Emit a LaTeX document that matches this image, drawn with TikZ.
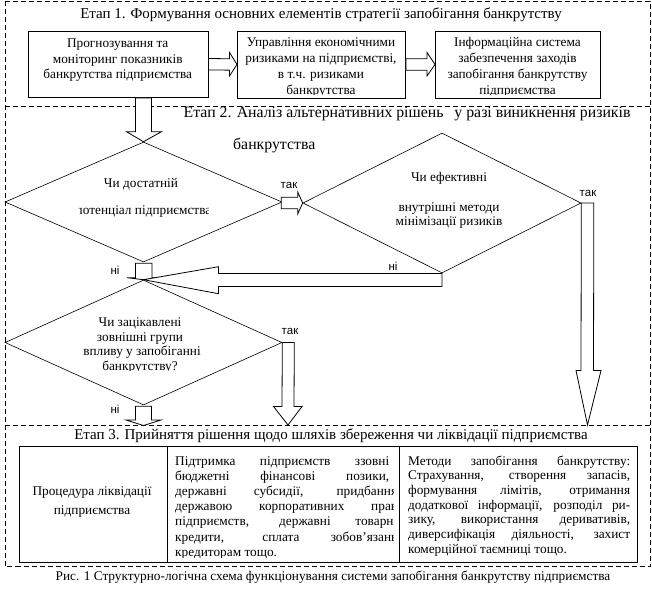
\documentclass[tikz,border=0pt]{standalone}
\usepackage{fontspec}
\setmainfont{Liberation Serif}
\setsansfont{Liberation Sans}
\newfontfamily\tnr{Liberation Serif}
\newfontfamily\arl{Liberation Sans}
\usetikzlibrary{shapes.geometric,calc}
\begin{document}
\begin{tikzpicture}[x=1pt,y=-1pt,
  frame/.style={draw, dash pattern=on 5pt off 3pt, line width=0.6pt},
  box/.style={draw, line width=0.9pt, inner sep=0pt, anchor=north west},
  dia/.style={draw, diamond, inner sep=0pt, line width=0.6pt},
  barrow/.style={draw, fill=white, line width=0.8pt, line join=miter},
  lbl/.style={font=\arl\fontsize{11.5}{12}\selectfont, inner sep=0pt, anchor=base},
  txt/.style={font=\tnr\fontsize{13.3}{15}\selectfont, inner sep=0pt, anchor=base},
  ltxt/.style={font=\tnr\fontsize{13.3}{15}\selectfont, inner sep=0pt, anchor=base west},
  title/.style={font=\tnr\fontsize{15}{17}\selectfont, inner sep=0pt, anchor=base},
  titleb/.style={font=\tnr\fontsize{15.8}{17}\selectfont, inner sep=0pt, anchor=base west},
]
\useasboundingbox (0,0) rectangle (652,611);
\fill[white] (0,0) rectangle (652,611);

% dashed frame of the three stages
\draw[frame] (5,1) rectangle (650,566.5);
\draw[frame] (5,106) -- (650,106);
\draw[frame] (5,425) -- (650,425);

% titles
\node[title] (t1) at (321,18.7) {Етап 1. Формування основних елементів стратегії запобігання банкрутству};
\node[titleb] (t2a) at (183.5,117.8) {Етап 2. Аналіз альтернативних рішень\hspace{11pt}у разі виникнення ризиків};
\node[titleb] (t2b) at (233,149.5) {банкрутства};
\node[title] (t3) at (331,439.5) {Етап 3. Прийняття рішення щодо шляхів збереження чи ліквідації підприємства};
\node[txt] (cap) at (333,580.5) {Рис. 1 Структурно-логічна схема функціонування системи запобігання банкрутству підприємства};

% stage 1 boxes
\node[box, minimum width=179.5pt, minimum height=66.5pt] (b1) at (28,30.5) {};
\node[box, minimum width=168pt, minimum height=67pt] (b2) at (237,30.5) {};
\node[box, minimum width=165pt, minimum height=67pt] (b3) at (435,30.5) {};

\node[txt] (b1l1) at (117.75,47.5) {Прогнозування та};
\node[txt] (b1l2) at (117.75,63) {моніторинг показників};
\node[txt] (b1l3) at (117.75,78.5) {банкрутства підприємства};

\begin{scope}
\clip (237,31) rectangle (405,94.3);
\node[txt] (b2l1) at (321,46.5) {Управління економічними};
\node[txt] (b2l2) at (321,62.5) {ризиками на підприємстві,};
\node[txt] (b2l3) at (321,78.5) {в т.ч. ризиками};
\node[txt] (b2l4) at (321,94.5) {банкрутства};
\end{scope}
\begin{scope}
\clip (435,31) rectangle (600,94.3);
\node[txt] (b3l1) at (517.5,46.5) {Інформаційна система};
\node[txt] (b3l2) at (517.5,62.5) {забезпечення заходів};
\node[txt] (b3l3) at (517.5,78.5) {запобігання банкрутству};
\node[txt] (b3l4) at (517.5,94.5) {підприємства};
\end{scope}

% arrows between stage 1 boxes
\draw[barrow] ($(b1.east)+(0,-5.7)$) -- ($(b2.west)+(-7.5,-5.7)$) -- ($(b2.west)+(-7.5,-12)$) -- (b2.west)
  -- ($(b2.west)+(-7.5,11.5)$) -- ($(b2.west)+(-7.5,5.7)$) -- ($(b1.east)+(0,5.7)$) -- cycle;
\draw[barrow] ($(b2.east)+(0,-5.7)$) -- ($(b3.west)+(-8,-5.7)$) -- ($(b3.west)+(-8,-12)$) -- (b3.west)
  -- ($(b3.west)+(-8,11.5)$) -- ($(b3.west)+(-8,5.7)$) -- ($(b2.east)+(0,5.7)$) -- cycle;

% diamonds
\node[dia, minimum width=277pt, minimum height=120pt] (d1) at (143.5,202) {};
\node[dia, minimum width=278pt, minimum height=140pt] (d2) at (442,203) {};
\node[dia, minimum width=277pt, minimum height=125pt] (d3) at (143.5,342.5) {};

% diamond texts
\node[txt] (d1l1) at (141,187.5) {Чи достатній};
\begin{scope}
\clip (79,195) rectangle (208.5,225);
\node[txt] (d1l2) at (143.5,214.5) {потенціал підприємства};
\end{scope}
\node[txt] (d2l1) at (449,181.5) {Чи ефективні};
\node[txt] (d2l2) at (449,211.5) {внутрішні методи};
\node[txt] (d2l3) at (449,225.5) {мінімізації ризиків};
\node[txt] (d3l1) at (140,326.5) {Чи зацікавлені};
\node[txt] (d3l2) at (140,341) {зовнішні групи};
\node[txt] (d3l3) at (142,355.5) {впливу у запобіганні};
\begin{scope}
\clip (60,358) rectangle (230,370.6);
\node[txt] (d3l4) at (140,370) {банкрутству?};
\end{scope}

% free ends of the arrows on the stage 3 line
\coordinate (e2) at (587.5,425);
\coordinate (e3) at (288,425);
\coordinate (e4) at (143.5,425.5);

% block arrow: stage 1 -> diamond 1
\draw[barrow] ($(d1.north |- b1.south)+(-8,0)$) -- ($(d1.north)+(-8,-10)$) -- ($(d1.north)+(-17,-10)$) -- (d1.north)
  -- ($(d1.north)+(18,-10)$) -- ($(d1.north)+(8,-10)$) -- ($(d1.north |- b1.south)+(8,0)$) -- cycle;

% так: diamond 1 -> diamond 2
\draw[barrow] ($(d1.east |- d2.west)+(-1,-5.8)$) -- ($(d2.west)+(-5,-5.8)$) -- ($(d2.west)+(-5,-11)$) -- (d2.west)
  -- ($(d2.west)+(-5,11)$) -- ($(d2.west)+(-5,5.8)$) -- ($(d1.east |- d2.west)+(-1,5.8)$) -- cycle;

% ні: diamond 1 -> diamond 3
\draw[barrow] ($(d1.south)+(-8,1)$) -- ($(d3.north)+(-8,-2)$) -- ($(d3.north)+(-16.5,-2)$) -- (d3.north)
  -- ($(d3.north)+(18.5,-2)$) -- ($(d3.north)+(8.5,-2)$) -- ($(d1.south)+(8.5,1)$) -- cycle;

% ні: diamond 2 -> diamond 3
\draw[barrow] ($(d3.north -| d2.south)+(0,-6.3)$) -- ($(d3.north)+(75,-6.3)$) -- ($(d3.north)+(75,-13)$) -- (d3.north)
  -- ($(d3.north)+(75,14)$) -- ($(d3.north)+(75,6.7)$) -- ($(d3.north -| d2.south)+(0,6.7)$) -- cycle;

% так: diamond 2 -> stage 3
\draw[barrow] (d2.east) -- ($(d2.east)+(12.5,0)$) -- ($(e2)+(6,-54.5)$) -- ($(e2)+(13.5,-54.5)$) -- (e2)
  -- ($(e2)+(-11.5,-54.5)$) -- ($(e2)+(-6.5,-54.5)$) -- cycle;

% так: diamond 3 -> stage 3
\draw[barrow] (d3.east) -- ($(d3.east)+(12,0)$) -- ($(e3)+(6,-18.5)$) -- ($(e3)+(14,-18.5)$) -- (e3)
  -- ($(e3)+(-14.5,-18.5)$) -- ($(e3)+(-6,-18.5)$) -- cycle;

% ні: diamond 3 -> stage 3
\draw[barrow] ($(d3.south)+(-8,1)$) -- ($(e4)+(-8,-5.5)$) -- ($(e4)+(-17.5,-5.5)$) -- (e4)
  -- ($(e4)+(17.5,-5.5)$) -- ($(e4)+(8,-5.5)$) -- ($(d3.south)+(8,1)$) -- cycle;

% labels
\node[lbl] (l1) at (289,188) {так};
\node[lbl] (l2) at (588,196) {так};
\node[lbl] (l3) at (290,334) {так};
\node[lbl] (n1) at (115,274) {ні};
\node[lbl] (n2) at (393,270) {ні};
\node[lbl] (n3) at (115,413) {ні};

% stage 3 table
\node[box, minimum width=148.5pt, minimum height=116pt] (c1) at (18.5,446) {};
\node[box, minimum width=231.5pt, minimum height=116pt] (c2) at (167,446) {};
\node[box, minimum width=238.5pt, minimum height=116pt] (c3) at (398.5,446) {};

\node[txt] (c1l1) at (92,495) {Процедура ліквідації};
\node[txt] (c1l2) at (92,514.5) {підприємства};

\begin{scope}
\clip (168,447) rectangle (393,557);
\node[ltxt] (c2l1) at (175,465) {\makebox[214pt][s]{Підтримка підприємств ззовні}};
\node[ltxt] (c2l2) at (175,480.2) {\makebox[214pt][s]{бюджетні фінансові позики,}};
\node[ltxt] (c2l3) at (175,495.4) {\makebox[222pt][s]{державні субсидії, придбання}};
\node[ltxt] (c2l4) at (175,510.6) {\makebox[222pt][s]{державою корпоративних прав}};
\node[ltxt] (c2l5) at (175,525.8) {\makebox[222pt][s]{підприємств, державні товарні}};
\node[ltxt] (c2l6) at (175,541) {\makebox[222pt][s]{кредити, сплата зобов’язань}};
\node[ltxt] (c2l7) at (175,556.2) {кредиторам тощо.};
\end{scope}

\node[ltxt] (c3l1) at (408,465) {\makebox[222pt][s]{Методи запобігання банкрутству:}};
\node[ltxt] (c3l2) at (408,479.7) {\makebox[222pt][s]{Страхування, створення запасів,}};
\node[ltxt] (c3l3) at (408,494.4) {\makebox[222pt][s]{формування лімітів, отримання}};
\node[ltxt] (c3l4) at (408,509.1) {\makebox[222pt][s]{додаткової інформації, розподіл ри-}};
\node[ltxt] (c3l5) at (408,523.8) {\makebox[222pt][s]{зику, використання деривативів,}};
\node[ltxt] (c3l6) at (408,538.5) {\makebox[222pt][s]{диверсифікація діяльності, захист}};
\node[ltxt] (c3l7) at (408,553.2) {комерційної таємниці тощо.};
\end{tikzpicture}
\end{document}
